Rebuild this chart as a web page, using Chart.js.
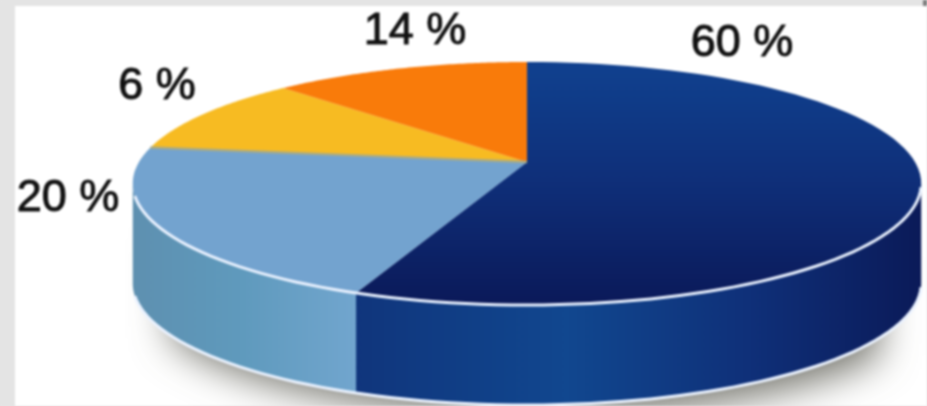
<!DOCTYPE html>
<html>
<head>
<meta charset="utf-8">
<title>Pie</title>
<script src="https://cdn.jsdelivr.net/npm/chart.js@4/dist/chart.umd.min.js"></script>
<style>
  html, body { margin: 0; padding: 0; background: #e4e4e4; overflow: hidden; }
  canvas { display: block; filter: blur(0.8px); }
</style>
</head>
<body>
<canvas id="myChart" width="927" height="406"></canvas>
<script>
// printed labels, clockwise from the top
var sliceLabels = ["60 %", "20 %", "6 %", "14 %"];
// slice sizes as drawn in the picture, they do not quite agree with the printed labels
var sliceShares = [56, 21, 10.5, 12.5];

// projection of the pie disc, apex sits above the middle of the ellipse
var apexX = 527, apexY = 162, radX = 388, radY = 117.7, tilt = 0.177, depth = 100;
var edgeAngle = Math.asin(tilt);

function project(a, dy) {
  var w = 1 - tilt * Math.sin(a);
  return [apexX + radX * Math.cos(a) / w, apexY + radY * Math.sin(a) / w + (dy || 0)];
}

function trace(ctx, a, b, dy, first) {
  var n = 80;
  for (var i = 0; i <= n; i++) {
    var p = project(a + (b - a) * i / n, dy);
    if (i == 0 && first) ctx.moveTo(p[0], p[1]);
    else ctx.lineTo(p[0], p[1]);
  }
}

function sidePath(ctx, a, b) {
  ctx.beginPath();
  trace(ctx, a, b, 0, true);
  trace(ctx, b, a, depth, false);
  ctx.closePath();
}

function hGradient(ctx, stops) {
  var g = ctx.createLinearGradient(132, 0, 922, 0);
  stops.forEach(function (s) { g.addColorStop(s[0], s[1]); });
  return g;
}

var pie3d = {
  id: "pie3d",
  beforeDraw: function (chart) {
    var ctx = chart.ctx;
    ctx.fillStyle = "#e4e4e4";
    ctx.fillRect(0, 0, 927, 406);
    ctx.fillStyle = "#ffffff";
    ctx.fillRect(15, 6, 912, 400);
    ctx.fillStyle = "#7a7a7a";
    ctx.fillRect(923, 0, 4, 6);
  },
  beforeDatasetsDraw: function (chart) {
    var ctx = chart.ctx;
    var arcs = chart.getDatasetMeta(0).data;
    var left = Math.PI - edgeAngle;

    ctx.save();
    // shadow under the disc
    ctx.save();
    ctx.shadowColor = "rgba(80,80,70,0.8)";
    ctx.shadowBlur = 38;
    ctx.shadowOffsetX = 12;
    ctx.shadowOffsetY = 10;
    ctx.fillStyle = "#ffffff";
    sidePath(ctx, edgeAngle + 0.5, left - 0.35);
    ctx.fill();
    ctx.restore();

    // side walls, only the two front slices show one
    var darkEnd = arcs[0].endAngle;
    sidePath(ctx, edgeAngle, darkEnd);
    ctx.fillStyle = hGradient(ctx, [[0.28, "#10357c"], [0.55, "#11478f"], [0.78, "#0f3079"], [1, "#0b1a58"]]);
    ctx.fill();
    sidePath(ctx, darkEnd, left);
    ctx.fillStyle = hGradient(ctx, [[0, "#5e90b0"], [0.14, "#5f9abd"], [0.29, "#72a6cf"]]);
    ctx.fill();

    // top face
    var darkTop = ctx.createLinearGradient(0, 62, 0, 300);
    darkTop.addColorStop(0, "#10418f");
    darkTop.addColorStop(0.5, "#0f2f79");
    darkTop.addColorStop(1, "#0b1a5a");
    var fills = [darkTop, "#73a3cf", "#f7bb22", "#f97b0a"];
    arcs.forEach(function (arc, i) {
      ctx.beginPath();
      ctx.moveTo(apexX, apexY);
      trace(ctx, arc.startAngle, arc.endAngle, 0, false);
      ctx.closePath();
      ctx.fillStyle = fills[i];
      ctx.fill();
    });

    // greyish seam between yellow and light blue
    var seam = project(arcs[1].endAngle, 0);
    ctx.strokeStyle = "#a9ab86";
    ctx.lineWidth = 2.5;
    ctx.beginPath();
    ctx.moveTo(apexX, apexY);
    ctx.lineTo(seam[0], seam[1]);
    ctx.stroke();

    // white rims
    ctx.lineWidth = 3;
    ctx.strokeStyle = "#eaf2ff";
    ctx.beginPath();
    trace(ctx, edgeAngle + 0.03, left - 0.1, 0, true);
    ctx.stroke();
    ctx.beginPath();
    trace(ctx, edgeAngle + 0.03, left - 0.1, depth, true);
    ctx.stroke();
    ctx.restore();
    return false;
  },
  afterDraw: function (chart) {
    var ctx = chart.ctx;
    var spots = [[742, 44], [68, 199], [157, 87], [415, 32]];
    ctx.font = "45px 'Liberation Sans'";
    ctx.fillStyle = "#111111";
    ctx.strokeStyle = "#111111";
    ctx.lineWidth = 1;
    ctx.textAlign = "center";
    ctx.textBaseline = "middle";
    sliceLabels.forEach(function (t, i) {
      ctx.fillText(t, spots[i][0], spots[i][1]);
      ctx.strokeText(t, spots[i][0], spots[i][1]);
    });
  }
};

new Chart("myChart", {
  type: "pie",
  data: {
    labels: sliceLabels,
    datasets: [{ data: sliceShares }]
  },
  options: {
    responsive: false,
    animation: false,
    events: [],
    plugins: {
      legend: { display: false },
      tooltip: { enabled: false }
    }
  },
  plugins: [pie3d]
});
</script>
</body>
</html>
